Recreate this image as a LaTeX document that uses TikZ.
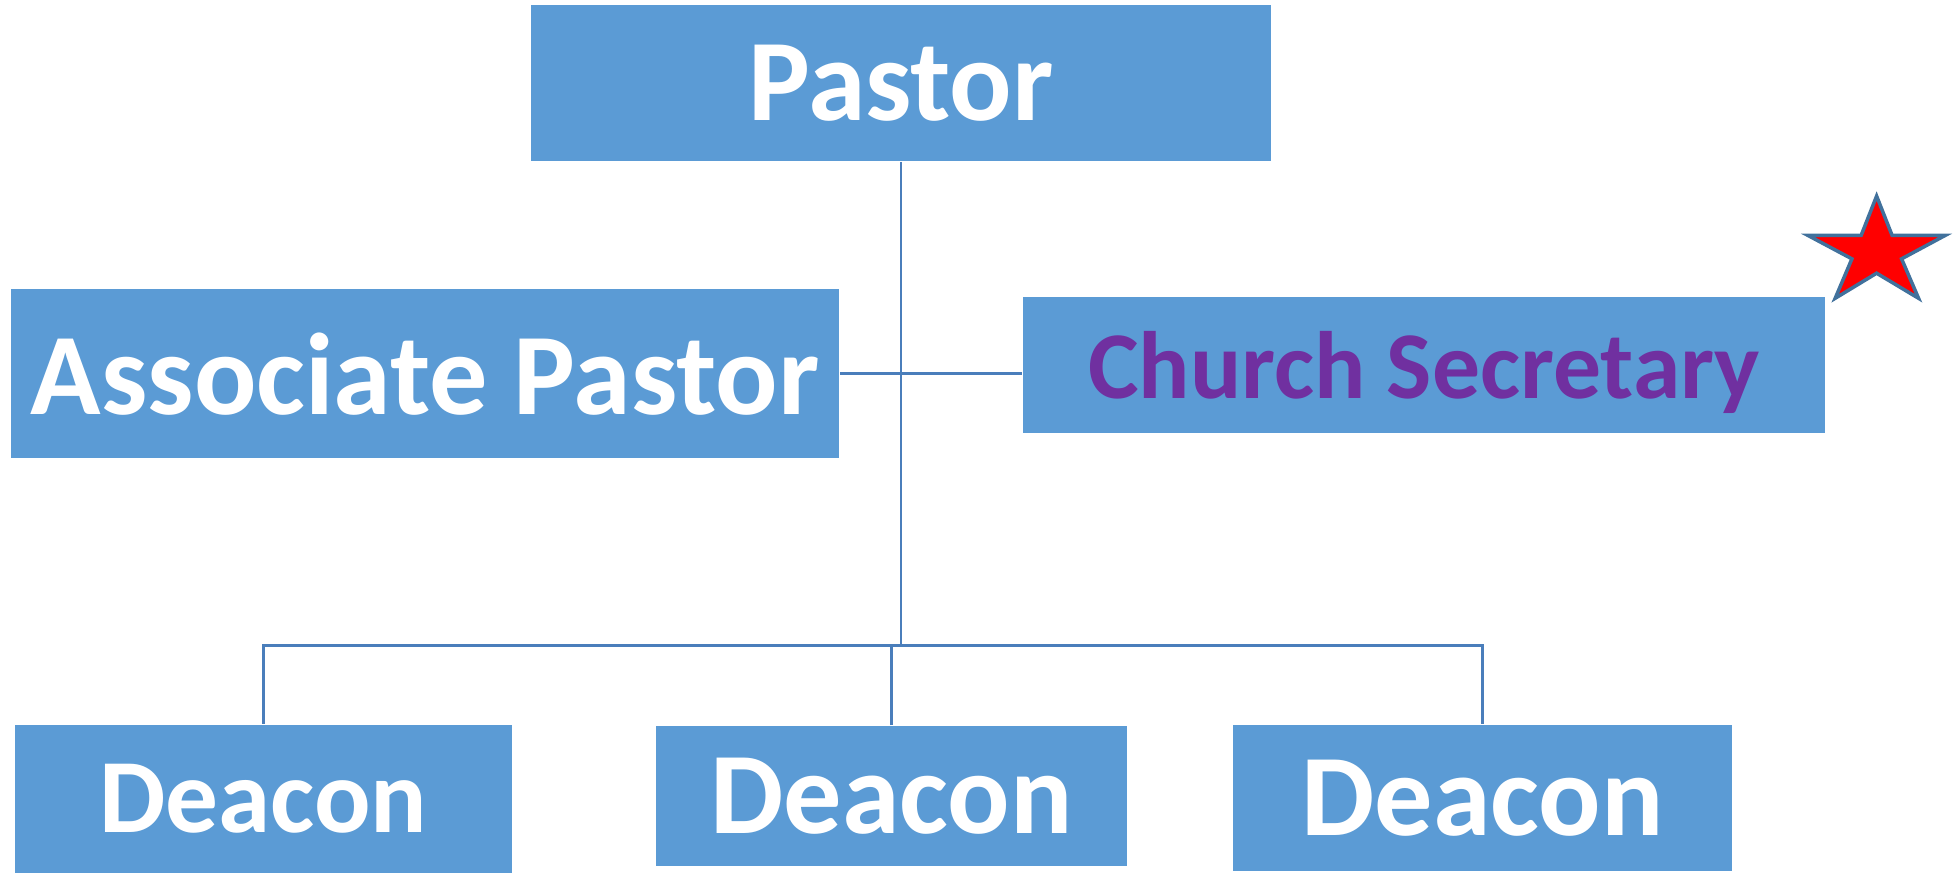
\documentclass[tikz,border=0pt]{standalone}
\usepackage{fontspec}
\setmainfont{Carlito}
\definecolor{boxblue}{HTML}{5B9BD5}
\definecolor{linkblue}{HTML}{4A7EBB}
\definecolor{secpurple}{HTML}{7030A0}
\definecolor{staredge}{HTML}{41719C}
\begin{document}
\begin{tikzpicture}[x=0.01cm, y=-0.01cm,
    office/.style={rectangle, fill=boxblue, inner sep=0pt, text=white, font=\bfseries\fontsize{26.5}{30}\selectfont},
    link/.style={draw=linkblue, line width=0.6pt}]
    \useasboundingbox (0,0) rectangle (1568,698.7);

    \node[office, minimum width=5.92cm, minimum height=1.25cm] (pastor) at (722,66.5) {Pastor};
    \node[office, minimum width=6.63cm, minimum height=1.35cm] (assoc) at (340.5,299.5) {Associate Pastor};
    \node[office, minimum width=6.42cm, minimum height=1.086cm, text=secpurple, text depth=0pt, font=\bfseries\fontsize{21.8}{26}\selectfont] (sec) at (1141,292.3) {Church Secretary};
    \node[office, minimum width=3.98cm, minimum height=1.194cm, font=\bfseries\fontsize{24}{28}\selectfont] (dea1) at (211,640.3) {Deacon};
    \node[office, minimum width=3.77cm, minimum height=1.12cm] (dea2) at (714.5,638) {Deacon};
    \node[office, minimum width=4.00cm, minimum height=1.174cm] (dea3) at (1188,639.3) {Deacon};

    \coordinate (bus) at (722,517);
    \draw[link] (pastor.south) -- (bus);
    \draw[link] (assoc.east) -- (sec.west |- assoc.east);
    \draw[link] (dea1.north) |- (bus) -| (dea3.north);
    \draw[link] (dea2.north) -- (dea2.north |- bus);

    % star next to the secretary
    \draw[fill=red, draw=staredge, line width=0.8pt] (1503.6,157.1) -- (1516,188.6) -- (1558.6,188.6) -- (1523.6,207.4) -- (1537.2,239) -- (1503.6,218.9) -- (1470.4,239) -- (1483.8,207.4) -- (1448.5,188.6) -- (1491.2,188.6) -- cycle;
\end{tikzpicture}
\end{document}
